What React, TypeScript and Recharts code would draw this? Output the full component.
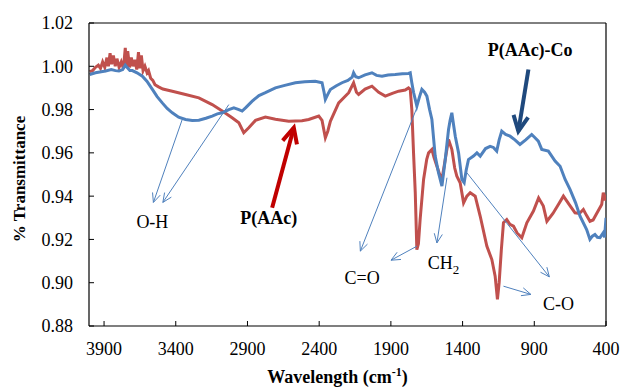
import React from 'react';
import { LineChart, Line, XAxis, YAxis, ReferenceLine, ReferenceDot, Label } from 'recharts';

const FONT = '"Liberation Serif", "Times New Roman", Times, serif';

const xTicks = [3900, 3400, 2900, 2400, 1900, 1400, 900, 400];
const yTicks = [0.88, 0.9, 0.92, 0.94, 0.96, 0.98, 1.0, 1.02];

// P(AAc) - red trace
const paacWave = [
  4000, 3980, 3960, 3940, 3925, 3910, 3895, 3880, 3870, 3858, 3848, 3835, 3822, 3810, 3795, 3780, 3765,
  3752, 3745, 3735, 3722, 3710, 3698, 3685, 3672, 3660, 3650, 3640, 3628, 3615, 3600, 3590, 3575, 3560,
  3545, 3520, 3490, 3424, 3332, 3239, 3146, 3076, 3007, 2960, 2926, 2891, 2844, 2775, 2705, 2612, 2520,
  2473, 2403, 2380, 2357, 2340, 2322, 2264, 2194, 2160, 2140, 2125, 2080, 2032, 1985, 1939, 1890, 1846,
  1800, 1777, 1765, 1754, 1742, 1730, 1719, 1708, 1696, 1672, 1650, 1637, 1614, 1600, 1579, 1560, 1544,
  1521, 1498, 1487, 1475, 1455, 1440, 1417, 1393, 1370, 1347, 1312, 1277, 1231, 1196, 1173, 1157, 1145,
  1130, 1115, 1092, 1070, 1045, 1020, 987, 952, 906, 870, 837, 812, 770, 732, 697, 655, 616, 585, 558,
  535, 512, 490, 465, 430, 419, 407, 400,
];
const paacT = [
  0.9975, 0.998, 0.9995, 1.0005, 0.999, 1.002, 0.9995, 1.004, 1.0, 1.006, 1.001, 1.005, 1.0, 1.0035, 0.9995, 1.002, 0.999,
  1.0085, 1.0, 1.007, 0.9995, 1.004, 1.0, 1.003, 0.9985, 1.0065, 0.999, 1.005, 0.998, 1.0, 0.997, 0.998, 0.9945, 0.9935,
  0.9915, 0.9905, 0.9895, 0.9885, 0.987, 0.9854, 0.9823, 0.9793, 0.9762, 0.9739, 0.9693, 0.9716, 0.975, 0.9765, 0.9755, 0.9746, 0.9748,
  0.9754, 0.977, 0.975, 0.967, 0.97, 0.9746, 0.9831, 0.9878, 0.9924, 0.988, 0.987, 0.9895, 0.9908, 0.988, 0.9862, 0.9875, 0.9885,
  0.989, 0.99, 0.9893, 0.98, 0.96, 0.9416, 0.9153, 0.918, 0.9292, 0.9477, 0.957, 0.96, 0.9616, 0.958, 0.9538, 0.95, 0.9477,
  0.9569, 0.9662, 0.964, 0.9616, 0.953, 0.9492, 0.9462, 0.9369, 0.94, 0.9416, 0.94, 0.9307, 0.9169, 0.9107, 0.903, 0.8923, 0.9,
  0.915, 0.9277, 0.9292, 0.927, 0.9261, 0.923, 0.9208, 0.9277, 0.9331, 0.9392, 0.9354, 0.9284, 0.932, 0.9361, 0.94, 0.936, 0.9323, 0.932, 0.9338,
  0.931, 0.9284, 0.929, 0.932, 0.9361, 0.9416, 0.938, 0.9408,
];

// P(AAc)-Co - blue trace
const coWave = [
  4000, 3960, 3920, 3889, 3850, 3820, 3796, 3770, 3752, 3740, 3720, 3703, 3670, 3633, 3600, 3563, 3530,
  3494, 3460, 3424, 3380, 3332, 3285, 3239, 3190, 3146, 3110, 3076, 3030, 2995, 2960, 2937, 2910, 2867,
  2820, 2775, 2705, 2640, 2566, 2500, 2427, 2380, 2366, 2357, 2340, 2322, 2280, 2241, 2200, 2170, 2160,
  2145, 2125, 2080, 2032, 2000, 1962, 1920, 1870, 1820, 1777, 1765, 1754, 1742, 1719, 1700, 1684, 1665,
  1649, 1630, 1614, 1591, 1568, 1544, 1521, 1498, 1487, 1475, 1463, 1451, 1428, 1405, 1389, 1375, 1359,
  1324, 1300, 1277, 1240, 1208, 1185, 1162, 1145, 1127, 1100, 1069, 1035, 1000, 960, 918, 895, 872, 848,
  802, 755, 720, 685, 651, 612, 581, 535, 512, 495, 477, 460, 442, 430, 419, 410, 400,
];
const coT = [
  0.9962, 0.997, 0.9975, 0.9978, 0.9985, 0.998, 0.9978, 0.9985, 1.0005, 0.9995, 0.998, 0.998, 0.997, 0.9954, 0.993, 0.9893, 0.986,
  0.9831, 0.9805, 0.9785, 0.9765, 0.9754, 0.975, 0.9751, 0.976, 0.977, 0.978, 0.9785, 0.98, 0.9808, 0.98, 0.9793, 0.981, 0.9839,
  0.9865, 0.9878, 0.99, 0.9912, 0.9924, 0.9928, 0.9931, 0.9924, 0.988, 0.9847, 0.987, 0.9893, 0.991, 0.9924, 0.9935, 0.995, 0.997,
  0.9952, 0.9947, 0.996, 0.997, 0.9958, 0.9954, 0.996, 0.9962, 0.9965, 0.9967, 0.997, 0.9924, 0.988, 0.9816, 0.986, 0.9893, 0.988,
  0.9862, 0.98, 0.9754, 0.9585, 0.9508, 0.9446, 0.9569, 0.9708, 0.975, 0.9785, 0.973, 0.9677, 0.96, 0.9477, 0.9462, 0.952, 0.9569,
  0.9585, 0.96, 0.9585, 0.962, 0.963, 0.9625, 0.9608, 0.966, 0.97, 0.9685, 0.9677, 0.966, 0.9639, 0.966, 0.9685, 0.967, 0.9654, 0.9616,
  0.9608, 0.9562, 0.9538, 0.9477, 0.9431, 0.9369, 0.9307, 0.9246, 0.92, 0.9215, 0.9223, 0.921, 0.9208, 0.922, 0.9231, 0.921, 0.93,
];

const paacData = paacWave.map((w, i) => ({ w, t: paacT[i] }));
const coData = coWave.map((w, i) => ({ w, t: coT[i] }));

// annotation text, anchored in data units (wavenumber, transmittance)
const notes = [
  { text: 'O-H', w: 3563, t: 0.9284, bold: false },
  { text: 'P(AAc)', w: 2751, t: 0.93, bold: true },
  { text: 'C=O', w: 2101, t: 0.9023, bold: false },
  { text: 'CH2', w: 1533, t: 0.9092, bold: false },
  { text: 'C-O', w: 732, t: 0.8904, bold: false },
  { text: 'P(AAc)-Co', w: 929, t: 1.0078, bold: true },
];

// arrows: from [w, t] to [w, t] (tip)
const thinArrows = [
  [[3355, 0.9754], [3556, 0.9371]],
  [[3030, 0.9823], [3490, 0.9371]],
  [[1718, 0.981], [2113, 0.9146]],
  [[1718, 0.9169], [1899, 0.9104]],
  [[1509, 0.9485], [1579, 0.9184]],
  [[1370, 0.9508], [795, 0.9027]],
  [[1115, 0.8984], [924, 0.8946]],
];
const boldArrows = [
  { from: [2728, 0.9346], to: [2577, 0.9716], color: '#C00000' },
  { from: [941, 0.9985], to: [1011, 0.97], color: '#1F497D' },
];

const arrowShape = (color: string, width: number, head: number, spread: number) => (props: any) => {
  const { x1, y1, x2, y2 } = props;
  const ang = Math.atan2(y2 - y1, x2 - x1);
  const a1 = ang + Math.PI - spread;
  const a2 = ang + Math.PI + spread;
  const pts = `${x2 + head * Math.cos(a1)},${y2 + head * Math.sin(a1)} ${x2},${y2} ${x2 + head * Math.cos(a2)},${y2 + head * Math.sin(a2)}`;
  return (
    <g>
      <line x1={x1} y1={y1} x2={x2} y2={y2} stroke={color} strokeWidth={width} />
      <polyline points={pts} fill="none" stroke={color} strokeWidth={width} strokeLinejoin="miter" />
    </g>
  );
};

const noteShape = (text: string, bold: boolean) => (props: any) => {
  const { cx, cy } = props;
  const style = { fontFamily: FONT, fontSize: 18, fontWeight: bold ? 700 : 400, fill: '#000' };
  if (text === 'CH2') {
    return (
      <text x={cx} y={cy} dy="0.35em" textAnchor="middle" style={style}>
        CH<tspan dy="5" fontSize="13">2</tspan>
      </text>
    );
  }
  return (
    <text x={cx} y={cy} dy="0.35em" textAnchor="middle" style={style}>
      {text}
    </text>
  );
};

const XTitle = (props: any) => {
  const { viewBox } = props;
  const cx = viewBox.x + viewBox.width / 2 - 10;
  return (
    <text x={cx} y={383} textAnchor="middle" style={{ fontFamily: FONT, fontSize: 18, fontWeight: 700, fill: '#000' }}>
      Wavelength (cm<tspan dy="-7" fontSize="12">-1</tspan><tspan dy="7">)</tspan>
    </text>
  );
};

const YTitle = () => (
  <text
    x={19}
    y={179}
    transform="rotate(-90 19 179)"
    textAnchor="middle"
    dy="0.35em"
    style={{ fontFamily: FONT, fontSize: 17, fontWeight: 700, fill: '#000' }}
  >
    % Transmittance
  </text>
);

export default function App() {
  const tickStyle = { fontSize: 18, fill: '#000', fontFamily: FONT };
  return (
    <div style={{ position: 'absolute', left: 0, top: 0, width: 622, height: 390, background: '#fff' }}>
      <LineChart width={622} height={390} margin={{ top: 23, right: 16, bottom: 0, left: 0 }}>
        <XAxis
          dataKey="w"
          type="number"
          reversed
          domain={[400, 4005]}
          ticks={xTicks}
          allowDataOverflow
          height={64}
          tick={tickStyle}
          tickSize={-5}
          tickMargin={21}
          axisLine={{ stroke: '#000', strokeWidth: 1.2 }}
          tickLine={{ stroke: '#000' }}
          interval={0}
        >
          <Label content={<XTitle />} />
        </XAxis>
        <YAxis
          type="number"
          domain={[0.88, 1.02]}
          ticks={yTicks}
          allowDataOverflow
          width={89}
          tick={tickStyle}
          tickSize={-5}
          tickMargin={21}
          tickFormatter={(v: number) => v.toFixed(2)}
          axisLine={{ stroke: '#000', strokeWidth: 1.2 }}
          tickLine={{ stroke: '#000' }}
          interval={0}
        >
          <Label content={<YTitle />} />
        </YAxis>
        <ReferenceLine y={1.02} stroke="#000" strokeWidth={1} />
        <ReferenceLine x={400} stroke="#000" strokeWidth={1.2} />
        <Line data={paacData} dataKey="t" type="linear" stroke="#C0504D" strokeWidth={3} dot={false} isAnimationActive={false} />
        <Line data={coData} dataKey="t" type="linear" stroke="#4F81BD" strokeWidth={3} dot={false} isAnimationActive={false} />
        {thinArrows.map(([a, b], i) => (
          <ReferenceLine
            key={`ta${i}`}
            segment={[{ x: a[0], y: a[1] }, { x: b[0], y: b[1] }]}
            ifOverflow="visible"
            shape={arrowShape('#4F81BD', 1, 10, 0.42)}
          />
        ))}
        {boldArrows.map((ar, i) => (
          <ReferenceLine
            key={`ba${i}`}
            segment={[{ x: ar.from[0], y: ar.from[1] }, { x: ar.to[0], y: ar.to[1] }]}
            ifOverflow="visible"
            shape={arrowShape(ar.color, 4, 17, 0.45)}
          />
        ))}
        {notes.map((n) => (
          <ReferenceDot key={n.text} x={n.w} y={n.t} r={0} ifOverflow="visible" shape={noteShape(n.text, n.bold)} />
        ))}
      </LineChart>
    </div>
  );
}
